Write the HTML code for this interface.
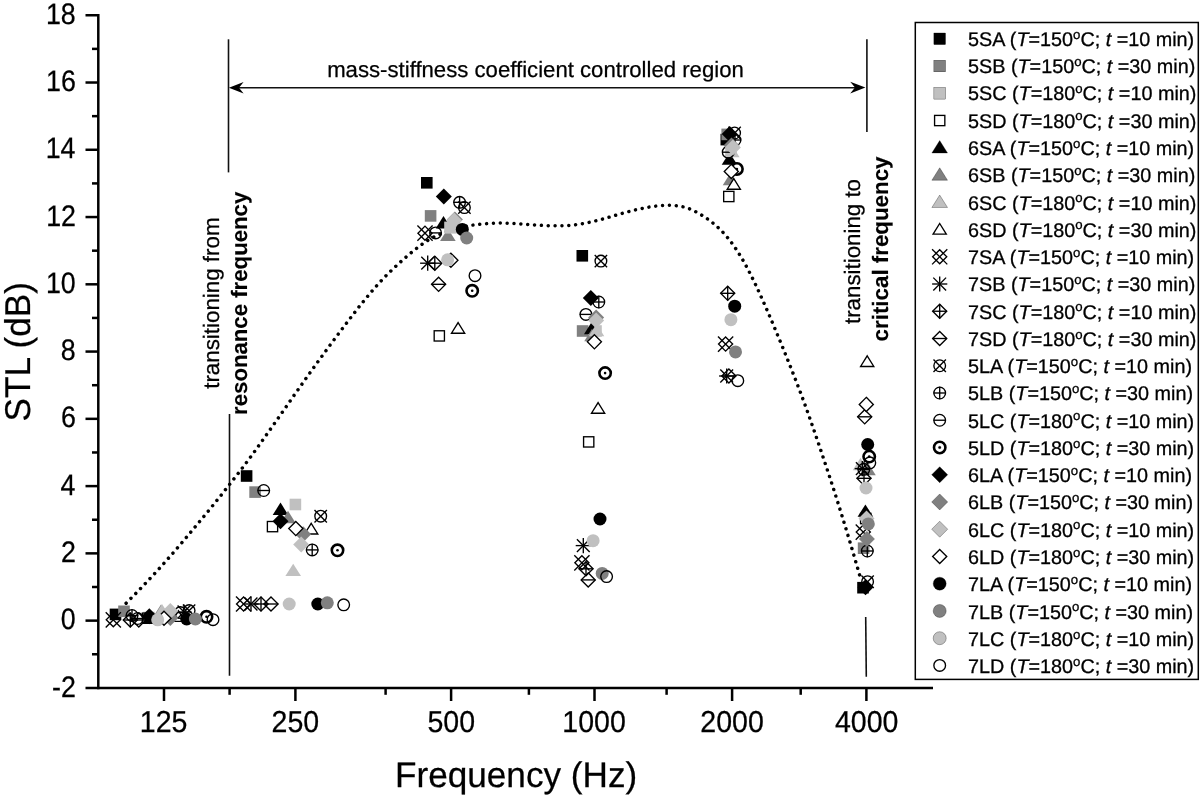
<!DOCTYPE html>
<html><head><meta charset="utf-8"><title>STL vs Frequency</title>
<style>
html,body{margin:0;padding:0;background:#fff;}
body{width:1200px;height:798px;overflow:hidden;position:relative;font-family:"Liberation Sans", sans-serif;}
svg{will-change:transform;}
svg text{text-rendering:geometricPrecision;}
</style></head><body>
<svg width="1200" height="798" viewBox="0 0 1200 798" style="position:absolute;left:0;top:0;font-family:'Liberation Sans', sans-serif">
<rect width="1200" height="798" fill="#fff"/>
<g stroke="#000" stroke-width="2.5" stroke-linecap="butt" fill="none">
<line x1="98.3" y1="14" x2="98.3" y2="689.15"/>
<line x1="85.5" y1="687.9" x2="933" y2="687.9"/>
<line x1="85.5" y1="15.25" x2="98.3" y2="15.25"/>
<line x1="92" y1="48.88" x2="98.3" y2="48.88"/>
<line x1="85.5" y1="82.52" x2="98.3" y2="82.52"/>
<line x1="92" y1="116.15" x2="98.3" y2="116.15"/>
<line x1="85.5" y1="149.78" x2="98.3" y2="149.78"/>
<line x1="92" y1="183.41" x2="98.3" y2="183.41"/>
<line x1="85.5" y1="217.05" x2="98.3" y2="217.05"/>
<line x1="92" y1="250.68" x2="98.3" y2="250.68"/>
<line x1="85.5" y1="284.31" x2="98.3" y2="284.31"/>
<line x1="92" y1="317.94" x2="98.3" y2="317.94"/>
<line x1="85.5" y1="351.57" x2="98.3" y2="351.57"/>
<line x1="92" y1="385.21" x2="98.3" y2="385.21"/>
<line x1="85.5" y1="418.84" x2="98.3" y2="418.84"/>
<line x1="92" y1="452.47" x2="98.3" y2="452.47"/>
<line x1="85.5" y1="486.11" x2="98.3" y2="486.11"/>
<line x1="92" y1="519.74" x2="98.3" y2="519.74"/>
<line x1="85.5" y1="553.37" x2="98.3" y2="553.37"/>
<line x1="92" y1="587" x2="98.3" y2="587"/>
<line x1="85.5" y1="620.63" x2="98.3" y2="620.63"/>
<line x1="92" y1="654.27" x2="98.3" y2="654.27"/>
<line x1="164" y1="687.9" x2="164" y2="701"/>
<line x1="295.4" y1="687.9" x2="295.4" y2="701"/>
<line x1="451.1" y1="687.9" x2="451.1" y2="701"/>
<line x1="594.5" y1="687.9" x2="594.5" y2="701"/>
<line x1="732.1" y1="687.9" x2="732.1" y2="701"/>
<line x1="866.4" y1="687.9" x2="866.4" y2="701"/>
<line x1="229.6" y1="687.9" x2="229.6" y2="694.8"/>
<line x1="385.6" y1="687.9" x2="385.6" y2="694.8"/>
<line x1="528.9" y1="687.9" x2="528.9" y2="694.8"/>
<line x1="666.6" y1="687.9" x2="666.6" y2="694.8"/>
<line x1="800.7" y1="687.9" x2="800.7" y2="694.8"/>
</g>
<text transform="translate(74.6 23.85) scale(0.95 1.05)" x="1.19" y="0" font-size="28.2" text-anchor="end" stroke="#000" stroke-width="0.25">18</text>
<text transform="translate(74.6 91.11) scale(0.95 1.05)" x="1.34" y="0" font-size="28.2" text-anchor="end" stroke="#000" stroke-width="0.25">16</text>
<text transform="translate(74.6 158.38) scale(0.95 1.05)" x="0.91" y="0" font-size="28.2" text-anchor="end" stroke="#000" stroke-width="0.25">14</text>
<text transform="translate(74.6 225.65) scale(0.95 1.05)" x="1.48" y="0" font-size="28.2" text-anchor="end" stroke="#000" stroke-width="0.25">12</text>
<text transform="translate(74.6 292.91) scale(0.95 1.05)" x="1.19" y="0" font-size="28.2" text-anchor="end" stroke="#000" stroke-width="0.25">10</text>
<text transform="translate(74.6 360.18) scale(0.95 1.05)" x="1.16" y="0" font-size="28.2" text-anchor="end" stroke="#000" stroke-width="0.25">8</text>
<text transform="translate(74.6 427.44) scale(0.95 1.05)" x="1.3" y="0" font-size="28.2" text-anchor="end" stroke="#000" stroke-width="0.25">6</text>
<text transform="translate(74.6 494.71) scale(0.95 1.05)" x="0.88" y="0" font-size="28.2" text-anchor="end" stroke="#000" stroke-width="0.25">4</text>
<text transform="translate(74.6 561.97) scale(0.95 1.05)" x="1.44" y="0" font-size="28.2" text-anchor="end" stroke="#000" stroke-width="0.25">2</text>
<text transform="translate(74.6 629.24) scale(0.95 1.05)" x="1.16" y="0" font-size="28.2" text-anchor="end" stroke="#000" stroke-width="0.25">0</text>
<text transform="translate(74.6 696.5) scale(0.95 1.05)" x="1.39" y="0" font-size="28.2" text-anchor="end" stroke="#000" stroke-width="0.25">-2</text>
<text transform="translate(164.1 732.1) scale(1.012 1.075)" x="-0.44" y="0" font-size="28.2" text-anchor="middle" stroke="#000" stroke-width="0.25">125</text>
<text transform="translate(295.5 732.1) scale(1.012 1.075)" x="-0.09" y="0" font-size="28.2" text-anchor="middle" stroke="#000" stroke-width="0.25">250</text>
<text transform="translate(451.2 732.1) scale(1.012 1.075)" x="0.05" y="0" font-size="28.2" text-anchor="middle" stroke="#000" stroke-width="0.25">500</text>
<text transform="translate(594.6 732.1) scale(1.012 1.075)" x="-0.5" y="0" font-size="28.2" text-anchor="middle" stroke="#000" stroke-width="0.25">1000</text>
<text transform="translate(732.2 732.1) scale(1.012 1.075)" x="-0.15" y="0" font-size="28.2" text-anchor="middle" stroke="#000" stroke-width="0.25">2000</text>
<text transform="translate(866.5 732.1) scale(1.012 1.075)" x="0.21" y="0" font-size="28.2" text-anchor="middle" stroke="#000" stroke-width="0.25">4000</text>
<text transform="translate(397.8 786.8) scale(0.988 1)" x="-2.85" y="0" font-size="35.6" text-anchor="start" stroke="#000" stroke-width="0.25">Frequency (Hz)</text>
<text transform="translate(29.8 420) rotate(-90) scale(0.983 1)" x="-1.61" y="0" font-size="35.8" text-anchor="start" stroke="#000" stroke-width="0.25">STL (dB)</text>
<g stroke="#111" stroke-width="1.6" fill="none">
<line x1="228.5" y1="39.3" x2="228.5" y2="172.4"/>
<line x1="229.5" y1="414" x2="229.5" y2="675.8"/>
<line x1="866.9" y1="39.3" x2="866.9" y2="131.9"/>
<line x1="865.7" y1="617" x2="866.3" y2="676.8"/>
<line x1="236" y1="87.7" x2="858" y2="87.7" stroke-width="1.6"/>
</g>
<path d="M228.9 87.8 L243.6 82.0 L239.0 87.8 L243.6 93.6 Z" fill="#000"/>
<path d="M865.4 87.6 L850.2 81.8 L855.0 87.6 L850.2 93.4 Z" fill="#000"/>
<text transform="translate(328.6 77.1)" x="-1.44" y="0" font-size="22.17" text-anchor="start" stroke="#000" stroke-width="0.25">mass-stiffness coefficient controlled region</text>
<text transform="translate(219.2 388.5) rotate(-90) scale(1.002 1)" x="-0.33" y="0" font-size="22.3" text-anchor="start" stroke="#000" stroke-width="0.25">transitioning from</text>
<text transform="translate(247.2 413.5) rotate(-90) scale(0.995 1)" x="-1.45" y="0" font-size="22.3" text-anchor="start" stroke="#000" stroke-width="0.12" font-weight="bold">resonance frequency</text>
<text transform="translate(859.8 323.7) rotate(-90)" x="-0.33" y="0" font-size="22.3" text-anchor="start" stroke="#000" stroke-width="0.25">transitioning to</text>
<text transform="translate(887.6 340.5) rotate(-90) scale(1.001 1)" x="-0.89" y="0" font-size="22.3" text-anchor="start" stroke="#000" stroke-width="0.12" font-weight="bold">critical frequency</text>
<path d="M125 604.3 L127.86 601.41 L131.95 597.29 L136.63 592.54 L141.25 587.77 L145.73 583.07 L150.39 578.14 L155.17 573.01 L160 567.73 L164.91 562.24 L169.92 556.56 L174.97 550.76 L180 544.93 L185.05 538.99 L190.14 532.94 L195.16 526.93 L200 521.1 L204.71 515.4 L209.33 509.77 L213.72 504.38 L217.75 499.4 L221.37 494.88 L224.65 490.72 L227.67 486.87 L230.5 483.25 L232.99 480.08 L235.16 477.32 L237.35 474.52 L239.88 471.23 L242.69 467.53 L245.67 463.62 L249.03 459.12 L253 453.7 L257.76 447.07 L263.16 439.48 L268.88 431.38 L274.62 423.23 L280.48 414.86 L286.56 406.13 L292.57 397.48 L298.25 389.38 L303.45 382 L308.35 375.09 L313.13 368.4 L317.98 361.68 L322.91 354.89 L327.84 348.16 L332.8 341.46 L337.82 334.73 L343.02 327.8 L348.33 320.75 L353.56 313.91 L358.48 307.6 L363.02 301.91 L367.3 296.67 L371.4 291.79 L375.38 287.2 L379.18 282.97 L382.79 279.1 L386.36 275.43 L390.02 271.77 L393.88 268.05 L397.82 264.37 L401.73 260.82 L405.48 257.5 L409.05 254.42 L412.51 251.54 L415.85 248.87 L419.05 246.43 L422.01 244.26 L424.77 242.36 L427.53 240.6 L430.52 238.88 L433.8 237.15 L437.25 235.49 L440.81 233.92 L444.43 232.45 L448.15 231.08 L451.99 229.79 L455.81 228.63 L459.5 227.62 L462.99 226.81 L466.36 226.15 L469.68 225.6 L473 225.1 L476.32 224.64 L479.61 224.25 L482.91 223.92 L486.25 223.65 L489.65 223.43 L493.08 223.26 L496.53 223.15 L500 223.1 L503.45 223.12 L506.89 223.2 L510.39 223.33 L514 223.5 L517.73 223.72 L521.56 223.98 L525.48 224.27 L529.5 224.55 L533.68 224.83 L538 225.13 L542.32 225.4 L546.5 225.6 L550.52 225.74 L554.45 225.83 L558.28 225.86 L562 225.8 L565.57 225.64 L569.02 225.41 L572.39 225.09 L575.75 224.7 L579.1 224.23 L582.41 223.68 L585.7 223.07 L589 222.4 L592.27 221.68 L595.52 220.9 L598.81 220.06 L602.25 219.15 L605.81 218.15 L609.45 217.07 L613.25 215.95 L617.25 214.8 L621.53 213.59 L626.05 212.33 L630.66 211.08 L635.25 209.95 L639.87 208.91 L644.55 207.94 L649.14 207.08 L653.5 206.4 L657.6 205.9 L661.52 205.56 L665.24 205.37 L668.75 205.3 L672.02 205.36 L675.05 205.56 L677.94 205.89 L680.75 206.35 L683.43 206.93 L685.98 207.64 L688.5 208.5 L691.12 209.55 L693.87 210.79 L696.68 212.2 L699.55 213.8 L702.5 215.6 L705.55 217.58 L708.69 219.74 L711.87 222.11 L715.02 224.73 L718.16 227.56 L721.3 230.6 L724.44 233.92 L727.57 237.58 L730.71 241.57 L733.85 245.87 L736.99 250.49 L740.12 255.45 L743.26 260.78 L746.4 266.46 L749.54 272.44 L752.67 278.65 L755.81 285.13 L758.94 291.89 L762.07 298.84 L765.2 305.9 L768.33 313.07 L771.45 320.4 L774.58 327.83 L777.7 335.33 L780.87 343 L784.07 350.83 L787.2 358.59 L790.18 366.02 L792.97 373.09 L795.64 379.9 L798.18 386.49 L800.62 392.93 L802.86 398.92 L804.93 404.55 L807.01 410.36 L809.33 416.9 L811.9 424.27 L814.64 432.19 L817.53 440.65 L820.58 449.65 L823.83 459.37 L827.29 469.75 L830.8 480.43 L834.23 491.02 L837.62 501.73 L841.03 512.66 L844.3 523.29 L847.3 533.1 L850.03 542.19 L852.55 550.76 L854.79 558.46 L856.67 564.92 L858.15 570.02 L859.27 573.95 L860.1 576.89 L860.7 579" fill="none" stroke="#000" stroke-width="3.5" stroke-linecap="round" stroke-dasharray="0.01 6.85" stroke-dashoffset="-1.6"/>
<g>
<rect x="109.7" y="608.6" width="11.6" height="11.6" fill="#000"/>
<rect x="240.8" y="470.2" width="11.6" height="11.6" fill="#000"/>
<rect x="421" y="177" width="11.6" height="11.6" fill="#000"/>
<rect x="576.5" y="250" width="11.6" height="11.6" fill="#000"/>
<rect x="720.5" y="133.8" width="11.6" height="11.6" fill="#000"/>
<rect x="857.2" y="581.9" width="11.6" height="11.6" fill="#000"/>
<rect x="118.2" y="605.5" width="11.6" height="11.6" fill="#808080"/>
<rect x="249.3" y="486.3" width="11.6" height="11.6" fill="#808080"/>
<rect x="424.8" y="210.1" width="11.6" height="11.6" fill="#808080"/>
<rect x="576.8" y="325.2" width="11.6" height="11.6" fill="#808080"/>
<rect x="721.4" y="128.6" width="11.6" height="11.6" fill="#808080"/>
<rect x="857.8" y="542.4" width="11.6" height="11.6" fill="#808080"/>
<rect x="143.2" y="611.7" width="11.6" height="11.6" fill="#c0c0c0"/>
<rect x="289.6" y="498.7" width="11.6" height="11.6" fill="#c0c0c0"/>
<rect x="446.2" y="220.2" width="11.6" height="11.6" fill="#c0c0c0"/>
<rect x="590.2" y="325.2" width="11.6" height="11.6" fill="#c0c0c0"/>
<rect x="725.2" y="144.2" width="11.6" height="11.6" fill="#c0c0c0"/>
<rect x="859.9" y="512.7" width="11.6" height="11.6" fill="#c0c0c0"/>
<rect x="142.38" y="613.08" width="10.25" height="10.25" fill="#fff" stroke="#000" stroke-width="1.35"/>
<rect x="267.38" y="521.48" width="10.25" height="10.25" fill="#fff" stroke="#000" stroke-width="1.35"/>
<rect x="434.18" y="330.77" width="10.25" height="10.25" fill="#fff" stroke="#000" stroke-width="1.35"/>
<rect x="583.58" y="436.77" width="10.25" height="10.25" fill="#fff" stroke="#000" stroke-width="1.35"/>
<rect x="723.67" y="191.38" width="10.25" height="10.25" fill="#fff" stroke="#000" stroke-width="1.35"/>
<rect x="860.58" y="513.38" width="10.25" height="10.25" fill="#fff" stroke="#000" stroke-width="1.35"/>
<polygon points="150.5,610.8 158.3,623.2 142.7,623.2" fill="#000"/>
<polygon points="280.5,502.6 288.3,515 272.7,515" fill="#000"/>
<polygon points="443.5,216 451.3,228.4 435.7,228.4" fill="#000"/>
<polygon points="591.8,321.8 599.6,334.2 584,334.2" fill="#000"/>
<polygon points="729.5,152.4 737.3,164.8 721.7,164.8" fill="#000"/>
<polygon points="865.4,504.4 873.2,516.8 857.6,516.8" fill="#000"/>
<polygon points="161,604.4 168.8,616.8 153.2,616.8" fill="#808080"/>
<polygon points="288,510.8 295.8,523.2 280.2,523.2" fill="#808080"/>
<polygon points="447.9,228.6 455.7,241 440.1,241" fill="#808080"/>
<polygon points="592,328.8 599.8,341.2 584.2,341.2" fill="#808080"/>
<polygon points="730.5,172.8 738.3,185.2 722.7,185.2" fill="#808080"/>
<polygon points="868,462.8 875.8,475.2 860.2,475.2" fill="#808080"/>
<polygon points="162,603.9 169.8,616.3 154.2,616.3" fill="#c0c0c0"/>
<polygon points="293.2,563.7 301,576.1 285.4,576.1" fill="#c0c0c0"/>
<polygon points="452.8,221.1 460.6,233.5 445,233.5" fill="#c0c0c0"/>
<polygon points="596.5,323.8 604.3,336.2 588.7,336.2" fill="#c0c0c0"/>
<polygon points="731.8,144.8 739.6,157.2 724,157.2" fill="#c0c0c0"/>
<polygon points="860.5,457.8 868.3,470.2 852.7,470.2" fill="#c0c0c0"/>
<rect x="444.2" y="221.6" width="11.6" height="11.6" fill="#c0c0c0"/>
<polygon points="178.5,610.8 185.1,621.4 171.9,621.4" fill="#fff" stroke="#000" stroke-width="1.35" stroke-linejoin="miter"/>
<polygon points="311.2,523.4 317.8,534 304.6,534" fill="#fff" stroke="#000" stroke-width="1.35" stroke-linejoin="miter"/>
<polygon points="458.1,322.6 464.7,333.2 451.5,333.2" fill="#fff" stroke="#000" stroke-width="1.35" stroke-linejoin="miter"/>
<polygon points="598.1,402.6 604.7,413.2 591.5,413.2" fill="#fff" stroke="#000" stroke-width="1.35" stroke-linejoin="miter"/>
<polygon points="733.8,178.6 740.4,189.2 727.2,189.2" fill="#fff" stroke="#000" stroke-width="1.35" stroke-linejoin="miter"/>
<polygon points="867.2,355.9 873.8,366.5 860.6,366.5" fill="#fff" stroke="#000" stroke-width="1.35" stroke-linejoin="miter"/>
<polygon points="113.3,612.75 120.35,619.8 113.3,626.85 106.25,619.8" fill="none" stroke="#000" stroke-width="1.35"/><line x1="105.7" y1="612.2" x2="120.9" y2="627.4" stroke="#000" stroke-width="1.35"/><line x1="105.7" y1="627.4" x2="120.9" y2="612.2" stroke="#000" stroke-width="1.35"/>
<polygon points="243.6,596.95 250.66,604 243.6,611.05 236.54,604" fill="none" stroke="#000" stroke-width="1.35"/><line x1="236" y1="596.4" x2="251.2" y2="611.6" stroke="#000" stroke-width="1.35"/><line x1="236" y1="611.6" x2="251.2" y2="596.4" stroke="#000" stroke-width="1.35"/>
<polygon points="425,226.14 432.06,233.2 425,240.25 417.94,233.2" fill="none" stroke="#000" stroke-width="1.35"/><line x1="417.4" y1="225.6" x2="432.6" y2="240.8" stroke="#000" stroke-width="1.35"/><line x1="417.4" y1="240.8" x2="432.6" y2="225.6" stroke="#000" stroke-width="1.35"/>
<polygon points="581.9,555.75 588.95,562.8 581.9,569.85 574.85,562.8" fill="none" stroke="#000" stroke-width="1.35"/><line x1="574.3" y1="555.2" x2="589.5" y2="570.4" stroke="#000" stroke-width="1.35"/><line x1="574.3" y1="570.4" x2="589.5" y2="555.2" stroke="#000" stroke-width="1.35"/>
<polygon points="725.6,337.05 732.65,344.1 725.6,351.16 718.55,344.1" fill="none" stroke="#000" stroke-width="1.35"/><line x1="718" y1="336.5" x2="733.2" y2="351.7" stroke="#000" stroke-width="1.35"/><line x1="718" y1="351.7" x2="733.2" y2="336.5" stroke="#000" stroke-width="1.35"/>
<polygon points="863.3,525.05 870.35,532.1 863.3,539.15 856.25,532.1" fill="none" stroke="#000" stroke-width="1.35"/><line x1="855.7" y1="524.5" x2="870.9" y2="539.7" stroke="#000" stroke-width="1.35"/><line x1="855.7" y1="539.7" x2="870.9" y2="524.5" stroke="#000" stroke-width="1.35"/>
<line x1="184" y1="604.4" x2="184" y2="619.6" stroke="#000" stroke-width="1.35"/><line x1="176.4" y1="612" x2="191.6" y2="612" stroke="#000" stroke-width="1.35"/><line x1="177.6" y1="605.6" x2="190.4" y2="618.4" stroke="#000" stroke-width="1.35"/><line x1="177.6" y1="618.4" x2="190.4" y2="605.6" stroke="#000" stroke-width="1.35"/>
<line x1="251" y1="596.4" x2="251" y2="611.6" stroke="#000" stroke-width="1.35"/><line x1="243.4" y1="604" x2="258.6" y2="604" stroke="#000" stroke-width="1.35"/><line x1="244.6" y1="597.6" x2="257.4" y2="610.4" stroke="#000" stroke-width="1.35"/><line x1="244.6" y1="610.4" x2="257.4" y2="597.6" stroke="#000" stroke-width="1.35"/>
<line x1="427.7" y1="255.6" x2="427.7" y2="270.8" stroke="#000" stroke-width="1.35"/><line x1="420.1" y1="263.2" x2="435.3" y2="263.2" stroke="#000" stroke-width="1.35"/><line x1="421.3" y1="256.8" x2="434.1" y2="269.6" stroke="#000" stroke-width="1.35"/><line x1="421.3" y1="269.6" x2="434.1" y2="256.8" stroke="#000" stroke-width="1.35"/>
<line x1="583.3" y1="538" x2="583.3" y2="553.2" stroke="#000" stroke-width="1.35"/><line x1="575.7" y1="545.6" x2="590.9" y2="545.6" stroke="#000" stroke-width="1.35"/><line x1="576.9" y1="539.2" x2="589.7" y2="552" stroke="#000" stroke-width="1.35"/><line x1="576.9" y1="552" x2="589.7" y2="539.2" stroke="#000" stroke-width="1.35"/>
<line x1="726.7" y1="368.4" x2="726.7" y2="383.6" stroke="#000" stroke-width="1.35"/><line x1="719.1" y1="376" x2="734.3" y2="376" stroke="#000" stroke-width="1.35"/><line x1="720.3" y1="369.6" x2="733.1" y2="382.4" stroke="#000" stroke-width="1.35"/><line x1="720.3" y1="382.4" x2="733.1" y2="369.6" stroke="#000" stroke-width="1.35"/>
<line x1="862.3" y1="461" x2="862.3" y2="476.2" stroke="#000" stroke-width="1.35"/><line x1="854.7" y1="468.6" x2="869.9" y2="468.6" stroke="#000" stroke-width="1.35"/><line x1="855.9" y1="462.2" x2="868.7" y2="475" stroke="#000" stroke-width="1.35"/><line x1="855.9" y1="475" x2="868.7" y2="462.2" stroke="#000" stroke-width="1.35"/>
<polygon points="130.3,612.95 137.36,620 130.3,627.05 123.25,620" fill="none" stroke="#000" stroke-width="1.35"/><line x1="123.1" y1="620" x2="137.5" y2="620" stroke="#000" stroke-width="1.35"/><line x1="130.3" y1="612.8" x2="130.3" y2="627.2" stroke="#000" stroke-width="1.35"/>
<polygon points="261,596.95 268.06,604 261,611.05 253.94,604" fill="none" stroke="#000" stroke-width="1.35"/><line x1="253.8" y1="604" x2="268.2" y2="604" stroke="#000" stroke-width="1.35"/><line x1="261" y1="596.8" x2="261" y2="611.2" stroke="#000" stroke-width="1.35"/>
<polygon points="434.8,256.14 441.86,263.2 434.8,270.25 427.75,263.2" fill="none" stroke="#000" stroke-width="1.35"/><line x1="427.6" y1="263.2" x2="442" y2="263.2" stroke="#000" stroke-width="1.35"/><line x1="434.8" y1="256" x2="434.8" y2="270.4" stroke="#000" stroke-width="1.35"/>
<polygon points="586,561.75 593.05,568.8 586,575.85 578.95,568.8" fill="none" stroke="#000" stroke-width="1.35"/><line x1="578.8" y1="568.8" x2="593.2" y2="568.8" stroke="#000" stroke-width="1.35"/><line x1="586" y1="561.6" x2="586" y2="576" stroke="#000" stroke-width="1.35"/>
<polygon points="727.7,286.25 734.75,293.3 727.7,300.36 720.65,293.3" fill="none" stroke="#000" stroke-width="1.35"/><line x1="720.5" y1="293.3" x2="734.9" y2="293.3" stroke="#000" stroke-width="1.35"/><line x1="727.7" y1="286.1" x2="727.7" y2="300.5" stroke="#000" stroke-width="1.35"/>
<polygon points="864,471.25 871.05,478.3 864,485.36 856.95,478.3" fill="none" stroke="#000" stroke-width="1.35"/><line x1="856.8" y1="478.3" x2="871.2" y2="478.3" stroke="#000" stroke-width="1.35"/><line x1="864" y1="471.1" x2="864" y2="485.5" stroke="#000" stroke-width="1.35"/>
<polygon points="138.8,612.95 145.86,620 138.8,627.05 131.75,620" fill="none" stroke="#000" stroke-width="1.35"/><line x1="131.6" y1="620" x2="146" y2="620" stroke="#000" stroke-width="1.35"/>
<polygon points="271,596.95 278.06,604 271,611.05 263.94,604" fill="none" stroke="#000" stroke-width="1.35"/><line x1="263.8" y1="604" x2="278.2" y2="604" stroke="#000" stroke-width="1.35"/>
<polygon points="438.6,277.25 445.66,284.3 438.6,291.36 431.55,284.3" fill="none" stroke="#000" stroke-width="1.35"/><line x1="431.4" y1="284.3" x2="445.8" y2="284.3" stroke="#000" stroke-width="1.35"/>
<polygon points="588.2,572.85 595.25,579.9 588.2,586.95 581.15,579.9" fill="none" stroke="#000" stroke-width="1.35"/><line x1="581" y1="579.9" x2="595.4" y2="579.9" stroke="#000" stroke-width="1.35"/>
<polygon points="728.9,368.94 735.95,376 728.9,383.06 721.85,376" fill="none" stroke="#000" stroke-width="1.35"/><line x1="721.7" y1="376" x2="736.1" y2="376" stroke="#000" stroke-width="1.35"/>
<polygon points="864.7,409.75 871.75,416.8 864.7,423.86 857.65,416.8" fill="none" stroke="#000" stroke-width="1.35"/><line x1="857.5" y1="416.8" x2="871.9" y2="416.8" stroke="#000" stroke-width="1.35"/>
<circle cx="180.3" cy="612.6" r="5.83" fill="none" stroke="#000" stroke-width="1.35"/><line x1="174.1" y1="612.6" x2="186.5" y2="612.6" stroke="#000" stroke-width="1.35"/>
<circle cx="189.1" cy="610.6" r="5.83" fill="none" stroke="#000" stroke-width="1.35"/><line x1="182.9" y1="604.4" x2="195.3" y2="616.8" stroke="#000" stroke-width="1.35"/><line x1="182.9" y1="616.8" x2="195.3" y2="604.4" stroke="#000" stroke-width="1.35"/>
<circle cx="320.7" cy="516.2" r="5.83" fill="none" stroke="#000" stroke-width="1.35"/><line x1="314.5" y1="510" x2="326.9" y2="522.4" stroke="#000" stroke-width="1.35"/><line x1="314.5" y1="522.4" x2="326.9" y2="510" stroke="#000" stroke-width="1.35"/>
<circle cx="464.4" cy="207.6" r="5.83" fill="none" stroke="#000" stroke-width="1.35"/><line x1="458.2" y1="201.4" x2="470.6" y2="213.8" stroke="#000" stroke-width="1.35"/><line x1="458.2" y1="213.8" x2="470.6" y2="201.4" stroke="#000" stroke-width="1.35"/>
<circle cx="600.9" cy="261.1" r="5.83" fill="none" stroke="#000" stroke-width="1.35"/><line x1="594.7" y1="254.9" x2="607.1" y2="267.3" stroke="#000" stroke-width="1.35"/><line x1="594.7" y1="267.3" x2="607.1" y2="254.9" stroke="#000" stroke-width="1.35"/>
<circle cx="734.6" cy="133" r="5.83" fill="none" stroke="#000" stroke-width="1.35"/><line x1="728.4" y1="126.8" x2="740.8" y2="139.2" stroke="#000" stroke-width="1.35"/><line x1="728.4" y1="139.2" x2="740.8" y2="126.8" stroke="#000" stroke-width="1.35"/>
<circle cx="867.6" cy="581.7" r="5.83" fill="none" stroke="#000" stroke-width="1.35"/><line x1="861.4" y1="575.5" x2="873.8" y2="587.9" stroke="#000" stroke-width="1.35"/><line x1="861.4" y1="587.9" x2="873.8" y2="575.5" stroke="#000" stroke-width="1.35"/>
<circle cx="132" cy="615.5" r="5.83" fill="none" stroke="#000" stroke-width="1.35"/><line x1="125.8" y1="615.5" x2="138.2" y2="615.5" stroke="#000" stroke-width="1.35"/><line x1="132" y1="609.3" x2="132" y2="621.7" stroke="#000" stroke-width="1.35"/>
<circle cx="312.2" cy="549.9" r="5.83" fill="none" stroke="#000" stroke-width="1.35"/><line x1="306" y1="549.9" x2="318.4" y2="549.9" stroke="#000" stroke-width="1.35"/><line x1="312.2" y1="543.7" x2="312.2" y2="556.1" stroke="#000" stroke-width="1.35"/>
<circle cx="459.6" cy="202.3" r="5.83" fill="none" stroke="#000" stroke-width="1.35"/><line x1="453.4" y1="202.3" x2="465.8" y2="202.3" stroke="#000" stroke-width="1.35"/><line x1="459.6" y1="196.1" x2="459.6" y2="208.5" stroke="#000" stroke-width="1.35"/>
<circle cx="598.8" cy="302" r="5.83" fill="none" stroke="#000" stroke-width="1.35"/><line x1="592.6" y1="302" x2="605" y2="302" stroke="#000" stroke-width="1.35"/><line x1="598.8" y1="295.8" x2="598.8" y2="308.2" stroke="#000" stroke-width="1.35"/>
<circle cx="735" cy="140" r="5.83" fill="none" stroke="#000" stroke-width="1.35"/><line x1="728.8" y1="140" x2="741.2" y2="140" stroke="#000" stroke-width="1.35"/><line x1="735" y1="133.8" x2="735" y2="146.2" stroke="#000" stroke-width="1.35"/>
<circle cx="867.3" cy="551" r="5.83" fill="none" stroke="#000" stroke-width="1.35"/><line x1="861.1" y1="551" x2="873.5" y2="551" stroke="#000" stroke-width="1.35"/><line x1="867.3" y1="544.8" x2="867.3" y2="557.2" stroke="#000" stroke-width="1.35"/>
<circle cx="137.5" cy="618.5" r="5.83" fill="none" stroke="#000" stroke-width="1.35"/><line x1="131.3" y1="618.5" x2="143.7" y2="618.5" stroke="#000" stroke-width="1.35"/>
<circle cx="263.7" cy="490.5" r="5.83" fill="none" stroke="#000" stroke-width="1.35"/><line x1="257.5" y1="490.5" x2="269.9" y2="490.5" stroke="#000" stroke-width="1.35"/>
<circle cx="435.6" cy="232.9" r="5.83" fill="none" stroke="#000" stroke-width="1.35"/><line x1="429.4" y1="232.9" x2="441.8" y2="232.9" stroke="#000" stroke-width="1.35"/>
<circle cx="585.9" cy="314.4" r="5.83" fill="none" stroke="#000" stroke-width="1.35"/><line x1="579.7" y1="314.4" x2="592.1" y2="314.4" stroke="#000" stroke-width="1.35"/>
<circle cx="728.2" cy="152.2" r="5.83" fill="none" stroke="#000" stroke-width="1.35"/><line x1="722" y1="152.2" x2="734.4" y2="152.2" stroke="#000" stroke-width="1.35"/>
<circle cx="863.8" cy="469.3" r="5.83" fill="none" stroke="#000" stroke-width="1.35"/><line x1="857.6" y1="469.3" x2="870" y2="469.3" stroke="#000" stroke-width="1.35"/>
<circle cx="206.5" cy="616.8" r="5.7" fill="#fff" stroke="#000" stroke-width="2.6"/><circle cx="206.5" cy="616.8" r="1.3" fill="#000"/>
<circle cx="337.5" cy="550.3" r="5.7" fill="#fff" stroke="#000" stroke-width="2.6"/><circle cx="337.5" cy="550.3" r="1.3" fill="#000"/>
<circle cx="472.2" cy="290.8" r="5.7" fill="#fff" stroke="#000" stroke-width="2.6"/><circle cx="472.2" cy="290.8" r="1.3" fill="#000"/>
<circle cx="605.1" cy="373.1" r="5.7" fill="#fff" stroke="#000" stroke-width="2.6"/><circle cx="605.1" cy="373.1" r="1.3" fill="#000"/>
<circle cx="736.9" cy="169" r="5.7" fill="#fff" stroke="#000" stroke-width="2.6"/><circle cx="736.9" cy="169" r="1.3" fill="#000"/>
<circle cx="869.2" cy="456.6" r="5.7" fill="#fff" stroke="#000" stroke-width="2.6"/><circle cx="869.2" cy="456.6" r="1.3" fill="#000"/>
<polygon points="149.3,608.3 157.3,616.3 149.3,624.3 141.3,616.3" fill="#000"/>
<polygon points="280.5,513.2 288.5,521.2 280.5,529.2 272.5,521.2" fill="#000"/>
<polygon points="443.8,188.6 451.8,196.6 443.8,204.6 435.8,196.6" fill="#000"/>
<polygon points="590.8,289.9 598.8,297.9 590.8,305.9 582.8,297.9" fill="#000"/>
<polygon points="729.7,126 737.7,134 729.7,142 721.7,134" fill="#000"/>
<polygon points="865.5,579.2 873.5,587.2 865.5,595.2 857.5,587.2" fill="#000"/>
<polygon points="170.3,610.1 178.3,618.1 170.3,626.1 162.3,618.1" fill="#808080"/>
<polygon points="303.2,526.2 311.2,534.2 303.2,542.2 295.2,534.2" fill="#808080"/>
<polygon points="454.9,211.5 462.9,219.5 454.9,227.5 446.9,219.5" fill="#808080"/>
<polygon points="596.1,309.4 604.1,317.4 596.1,325.4 588.1,317.4" fill="#808080"/>
<polygon points="731.5,137.5 739.5,145.5 731.5,153.5 723.5,145.5" fill="#808080"/>
<polygon points="866.9,531 874.9,539 866.9,547 858.9,539" fill="#808080"/>
<polygon points="170.3,603 178.3,611 170.3,619 162.3,611" fill="#c0c0c0"/>
<polygon points="301.2,536.6 309.2,544.6 301.2,552.6 293.2,544.6" fill="#c0c0c0"/>
<polygon points="454.1,212.5 462.1,220.5 454.1,228.5 446.1,220.5" fill="#c0c0c0"/>
<polygon points="596.1,312.5 604.1,320.5 596.1,328.5 588.1,320.5" fill="#c0c0c0"/>
<polygon points="732.9,139.4 740.9,147.4 732.9,155.4 724.9,147.4" fill="#c0c0c0"/>
<polygon points="866.5,510.5 874.5,518.5 866.5,526.5 858.5,518.5" fill="#c0c0c0"/>
<polygon points="164,611.15 171.06,618.2 164,625.25 156.94,618.2" fill="#fff" stroke="#000" stroke-width="1.35"/>
<polygon points="295.8,521.55 302.86,528.6 295.8,535.65 288.75,528.6" fill="#fff" stroke="#000" stroke-width="1.35"/>
<polygon points="450.9,253.14 457.95,260.2 450.9,267.25 443.84,260.2" fill="#fff" stroke="#000" stroke-width="1.35"/>
<polygon points="594.4,334.75 601.45,341.8 594.4,348.86 587.35,341.8" fill="#fff" stroke="#000" stroke-width="1.35"/>
<polygon points="731.3,164.34 738.35,171.4 731.3,178.46 724.25,171.4" fill="#fff" stroke="#000" stroke-width="1.35"/>
<polygon points="866.3,397.34 873.35,404.4 866.3,411.45 859.25,404.4" fill="#fff" stroke="#000" stroke-width="1.35"/>
<circle cx="186.7" cy="619" r="6.5" fill="#000"/>
<circle cx="317.8" cy="604" r="6.5" fill="#000"/>
<circle cx="462.3" cy="229.4" r="6.5" fill="#000"/>
<circle cx="600" cy="519" r="6.5" fill="#000"/>
<circle cx="734.7" cy="306.2" r="6.5" fill="#000"/>
<circle cx="867.7" cy="444.5" r="6.5" fill="#000"/>
<circle cx="195.4" cy="619" r="6.5" fill="#808080"/>
<circle cx="327.3" cy="602.8" r="6.5" fill="#808080"/>
<circle cx="466.7" cy="238" r="6.5" fill="#808080"/>
<circle cx="602.2" cy="573.4" r="6.5" fill="#808080"/>
<circle cx="735.5" cy="351.9" r="6.5" fill="#808080"/>
<circle cx="868.3" cy="523.9" r="6.5" fill="#808080"/>
<circle cx="157.7" cy="619.8" r="6.5" fill="#c0c0c0"/>
<circle cx="289.2" cy="604" r="6.5" fill="#c0c0c0"/>
<circle cx="447.6" cy="259.8" r="6.5" fill="#c0c0c0"/>
<circle cx="593.1" cy="540.7" r="6.5" fill="#c0c0c0"/>
<circle cx="730.9" cy="319.7" r="6.5" fill="#c0c0c0"/>
<circle cx="866" cy="488" r="6.5" fill="#c0c0c0"/>
<circle cx="213" cy="619.7" r="5.83" fill="none" stroke="#000" stroke-width="1.35"/>
<circle cx="343.7" cy="604.8" r="5.83" fill="none" stroke="#000" stroke-width="1.35"/>
<circle cx="475" cy="275.7" r="5.83" fill="none" stroke="#000" stroke-width="1.35"/>
<circle cx="606.6" cy="576.6" r="5.83" fill="none" stroke="#000" stroke-width="1.35"/>
<circle cx="737.8" cy="380.7" r="5.83" fill="none" stroke="#000" stroke-width="1.35"/>
<circle cx="869.8" cy="462.8" r="5.83" fill="none" stroke="#000" stroke-width="1.35"/>
</g>
<rect x="915.3" y="22.5" width="283" height="656.9" fill="#fff" stroke="#000" stroke-width="1.5"/>
<g font-size="19.8" fill="#000" stroke="#000" stroke-width="0.3">
<rect x="933.9" y="33" width="11.6" height="11.6" fill="#000"/>
<text x="968.0" y="45.9">5SA (<tspan font-style="italic">T</tspan>=150<tspan font-size="13.2" dy="-7.3">o</tspan><tspan dy="7.3">C; </tspan><tspan font-style="italic">t</tspan> =10 min)</text>
<rect x="933.9" y="60.25" width="11.6" height="11.6" fill="#808080"/>
<text x="968.0" y="73.17">5SB (<tspan font-style="italic">T</tspan>=150<tspan font-size="13.2" dy="-7.3">o</tspan><tspan dy="7.3">C; </tspan><tspan font-style="italic">t</tspan> =30 min)</text>
<rect x="933.9" y="87.49" width="11.6" height="11.6" fill="#c0c0c0"/>
<text x="968.0" y="100.44">5SC (<tspan font-style="italic">T</tspan>=180<tspan font-size="13.2" dy="-7.3">o</tspan><tspan dy="7.3">C; </tspan><tspan font-style="italic">t</tspan> =10 min)</text>
<rect x="934.58" y="115.41" width="10.25" height="10.25" fill="#fff" stroke="#000" stroke-width="1.35"/>
<text x="968.0" y="127.71">5SD (<tspan font-style="italic">T</tspan>=180<tspan font-size="13.2" dy="-7.3">o</tspan><tspan dy="7.3">C; </tspan><tspan font-style="italic">t</tspan> =30 min)</text>
<polygon points="939.7,140.58 947.5,152.98 931.9,152.98" fill="#000"/>
<text x="968.0" y="154.98">6SA (<tspan font-style="italic">T</tspan>=150<tspan font-size="13.2" dy="-7.3">o</tspan><tspan dy="7.3">C; </tspan><tspan font-style="italic">t</tspan> =10 min)</text>
<polygon points="939.7,167.82 947.5,180.22 931.9,180.22" fill="#808080"/>
<text x="968.0" y="182.25">6SB (<tspan font-style="italic">T</tspan>=150<tspan font-size="13.2" dy="-7.3">o</tspan><tspan dy="7.3">C; </tspan><tspan font-style="italic">t</tspan> =30 min)</text>
<polygon points="939.7,195.07 947.5,207.47 931.9,207.47" fill="#c0c0c0"/>
<text x="968.0" y="209.52">6SC (<tspan font-style="italic">T</tspan>=180<tspan font-size="13.2" dy="-7.3">o</tspan><tspan dy="7.3">C; </tspan><tspan font-style="italic">t</tspan> =10 min)</text>
<polygon points="939.7,223.51 946.3,234.11 933.1,234.11" fill="#fff" stroke="#000" stroke-width="1.35" stroke-linejoin="miter"/>
<text x="968.0" y="236.79">6SD (<tspan font-style="italic">T</tspan>=180<tspan font-size="13.2" dy="-7.3">o</tspan><tspan dy="7.3">C; </tspan><tspan font-style="italic">t</tspan> =30 min)</text>
<polygon points="939.7,249.7 946.75,256.76 939.7,263.81 932.65,256.76" fill="none" stroke="#000" stroke-width="1.35"/><line x1="932.1" y1="249.16" x2="947.3" y2="264.36" stroke="#000" stroke-width="1.35"/><line x1="932.1" y1="264.36" x2="947.3" y2="249.16" stroke="#000" stroke-width="1.35"/>
<text x="968.0" y="264.06">7SA (<tspan font-style="italic">T</tspan>=150<tspan font-size="13.2" dy="-7.3">o</tspan><tspan dy="7.3">C; </tspan><tspan font-style="italic">t</tspan> =10 min)</text>
<line x1="939.7" y1="276.4" x2="939.7" y2="291.61" stroke="#000" stroke-width="1.35"/><line x1="932.1" y1="284" x2="947.3" y2="284" stroke="#000" stroke-width="1.35"/><line x1="933.3" y1="277.61" x2="946.1" y2="290.4" stroke="#000" stroke-width="1.35"/><line x1="933.3" y1="290.4" x2="946.1" y2="277.61" stroke="#000" stroke-width="1.35"/>
<text x="968.0" y="291.33">7SB (<tspan font-style="italic">T</tspan>=150<tspan font-size="13.2" dy="-7.3">o</tspan><tspan dy="7.3">C; </tspan><tspan font-style="italic">t</tspan> =30 min)</text>
<polygon points="939.7,304.19 946.75,311.25 939.7,318.31 932.65,311.25" fill="none" stroke="#000" stroke-width="1.35"/><line x1="932.5" y1="311.25" x2="946.9" y2="311.25" stroke="#000" stroke-width="1.35"/><line x1="939.7" y1="304.05" x2="939.7" y2="318.45" stroke="#000" stroke-width="1.35"/>
<text x="968.0" y="318.6">7SC (<tspan font-style="italic">T</tspan>=180<tspan font-size="13.2" dy="-7.3">o</tspan><tspan dy="7.3">C; </tspan><tspan font-style="italic">t</tspan> =10 min)</text>
<polygon points="939.7,331.44 946.75,338.5 939.7,345.55 932.65,338.5" fill="none" stroke="#000" stroke-width="1.35"/><line x1="932.5" y1="338.5" x2="946.9" y2="338.5" stroke="#000" stroke-width="1.35"/>
<text x="968.0" y="345.87">7SD (<tspan font-style="italic">T</tspan>=180<tspan font-size="13.2" dy="-7.3">o</tspan><tspan dy="7.3">C; </tspan><tspan font-style="italic">t</tspan> =30 min)</text>
<circle cx="939.7" cy="365.74" r="5.83" fill="none" stroke="#000" stroke-width="1.35"/><line x1="933.5" y1="359.54" x2="945.9" y2="371.94" stroke="#000" stroke-width="1.35"/><line x1="933.5" y1="371.94" x2="945.9" y2="359.54" stroke="#000" stroke-width="1.35"/>
<text x="968.0" y="373.14">5LA (<tspan font-style="italic">T</tspan>=150<tspan font-size="13.2" dy="-7.3">o</tspan><tspan dy="7.3">C; </tspan><tspan font-style="italic">t</tspan> =10 min)</text>
<circle cx="939.7" cy="392.99" r="5.83" fill="none" stroke="#000" stroke-width="1.35"/><line x1="933.5" y1="392.99" x2="945.9" y2="392.99" stroke="#000" stroke-width="1.35"/><line x1="939.7" y1="386.79" x2="939.7" y2="399.19" stroke="#000" stroke-width="1.35"/>
<text x="968.0" y="400.41">5LB (<tspan font-style="italic">T</tspan>=150<tspan font-size="13.2" dy="-7.3">o</tspan><tspan dy="7.3">C; </tspan><tspan font-style="italic">t</tspan> =30 min)</text>
<circle cx="939.7" cy="420.23" r="5.83" fill="none" stroke="#000" stroke-width="1.35"/><line x1="933.5" y1="420.23" x2="945.9" y2="420.23" stroke="#000" stroke-width="1.35"/>
<text x="968.0" y="427.68">5LC (<tspan font-style="italic">T</tspan>=180<tspan font-size="13.2" dy="-7.3">o</tspan><tspan dy="7.3">C; </tspan><tspan font-style="italic">t</tspan> =10 min)</text>
<circle cx="939.7" cy="447.48" r="5.7" fill="#fff" stroke="#000" stroke-width="2.6"/><circle cx="939.7" cy="447.48" r="1.3" fill="#000"/>
<text x="968.0" y="454.95">5LD (<tspan font-style="italic">T</tspan>=180<tspan font-size="13.2" dy="-7.3">o</tspan><tspan dy="7.3">C; </tspan><tspan font-style="italic">t</tspan> =30 min)</text>
<polygon points="939.7,466.72 947.7,474.72 939.7,482.72 931.7,474.72" fill="#000"/>
<text x="968.0" y="482.22">6LA (<tspan font-style="italic">T</tspan>=150<tspan font-size="13.2" dy="-7.3">o</tspan><tspan dy="7.3">C; </tspan><tspan font-style="italic">t</tspan> =10 min)</text>
<polygon points="939.7,493.97 947.7,501.97 939.7,509.97 931.7,501.97" fill="#808080"/>
<text x="968.0" y="509.49">6LB (<tspan font-style="italic">T</tspan>=150<tspan font-size="13.2" dy="-7.3">o</tspan><tspan dy="7.3">C; </tspan><tspan font-style="italic">t</tspan> =30 min)</text>
<polygon points="939.7,521.21 947.7,529.21 939.7,537.21 931.7,529.21" fill="#c0c0c0"/>
<text x="968.0" y="536.76">6LC (<tspan font-style="italic">T</tspan>=180<tspan font-size="13.2" dy="-7.3">o</tspan><tspan dy="7.3">C; </tspan><tspan font-style="italic">t</tspan> =10 min)</text>
<polygon points="939.7,549.4 946.75,556.45 939.7,563.51 932.65,556.45" fill="#fff" stroke="#000" stroke-width="1.35"/>
<text x="968.0" y="564.03">6LD (<tspan font-style="italic">T</tspan>=180<tspan font-size="13.2" dy="-7.3">o</tspan><tspan dy="7.3">C; </tspan><tspan font-style="italic">t</tspan> =30 min)</text>
<circle cx="939.7" cy="583.7" r="6.5" fill="#000"/>
<text x="968.0" y="591.3">7LA (<tspan font-style="italic">T</tspan>=150<tspan font-size="13.2" dy="-7.3">o</tspan><tspan dy="7.3">C; </tspan><tspan font-style="italic">t</tspan> =10 min)</text>
<circle cx="939.7" cy="610.94" r="6.5" fill="#808080"/>
<text x="968.0" y="618.57">7LB (<tspan font-style="italic">T</tspan>=150<tspan font-size="13.2" dy="-7.3">o</tspan><tspan dy="7.3">C; </tspan><tspan font-style="italic">t</tspan> =30 min)</text>
<circle cx="939.7" cy="638.19" r="6.5" fill="#c0c0c0"/>
<text x="968.0" y="645.84">7LC (<tspan font-style="italic">T</tspan>=180<tspan font-size="13.2" dy="-7.3">o</tspan><tspan dy="7.3">C; </tspan><tspan font-style="italic">t</tspan> =10 min)</text>
<circle cx="939.7" cy="665.43" r="5.83" fill="none" stroke="#000" stroke-width="1.35"/>
<text x="968.0" y="673.11">7LD (<tspan font-style="italic">T</tspan>=180<tspan font-size="13.2" dy="-7.3">o</tspan><tspan dy="7.3">C; </tspan><tspan font-style="italic">t</tspan> =30 min)</text>
</g>
</svg>
</body></html>
